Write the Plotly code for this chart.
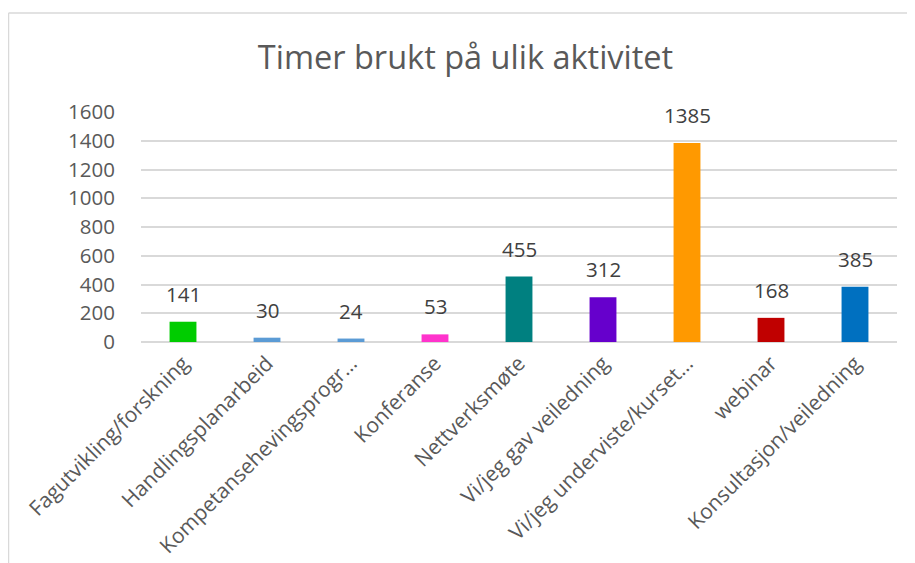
import plotly.graph_objects as go

categories = ["Fagutvikling/forskning", "Handlingsplanarbeid", "Kompetansehevingsprogr…",
              "Konferanse", "Nettverksmøte", "Vi/jeg gav veiledning",
              "Vi/jeg underviste/kurset…", "webinar", "Konsultasjon/veiledning"]
values = [141, 30, 24, 53, 455, 312, 1385, 168, 385]
colors = ["#00CC00", "#5B9BD5", "#5B9BD5", "#FF33CC", "#008080", "#6600CC",
          "#FF9900", "#C00000", "#0070C0"]
y_ticks = [0, 200, 400, 600, 800, 1000, 1200, 1400, 1600]

FONT = "Open Sans"

fig = go.Figure(go.Bar(x=categories, y=values, marker=dict(color=colors, line=dict(width=0)),
                       width=0.32, hoverinfo="x+y"))

for c, v in zip(categories, values):
    fig.add_annotation(x=c, y=v, text=str(v), showarrow=False, yanchor="bottom",
                       yshift=12, font=dict(family=FONT, size=20.5, color="#404040"))

# page has an 8px body margin; figure sized to fit the window
W, H = 907, 555
L, R, T, B = 133, 18, 104, 221
pw, ph = W - L - R, H - T - B
x0 = (0.5 - L) / pw
y0 = (H - B - 5) / ph

fig.add_shape(type="line", xref="paper", yref="paper", x0=x0, x1=(W - L + 20) / pw,
              y0=y0, y1=y0, line=dict(color="#D9D9D9", width=1.5))
fig.add_shape(type="line", xref="paper", yref="paper", x0=x0, x1=x0,
              y0=y0, y1=-(B + 20) / ph, line=dict(color="#D9D9D9", width=1.5))

fig.update_layout(
    width=W, height=H,
    margin=dict(l=L, r=R, t=T, b=B, autoexpand=False),
    paper_bgcolor="white", plot_bgcolor="white",
    title=dict(text="Timer brukt på ulik aktivitet", x=457.5 / W, xref="container", xanchor="center",
               y=1 - 50 / H, yref="container", yanchor="middle",
               font=dict(family=FONT, size=32.5, color="#595959")),
    showlegend=False,
    xaxis=dict(tickangle=-45, tickfont=dict(family=FONT, size=21, color="#595959"),
               showgrid=False, ticks="", showline=False, automargin=False, ticklabelstandoff=4),
    yaxis=dict(range=[0, 1600], tickvals=y_ticks, tickfont=dict(family=FONT, size=20.5, color="#595959"),
               showgrid=True, gridcolor="#D9D9D9", gridwidth=1.5, zeroline=True,
               zerolinecolor="#D9D9D9", zerolinewidth=1.5, ticks="", ticklabelstandoff=25,
               automargin=False),
)

fig.write_html("out.html")
